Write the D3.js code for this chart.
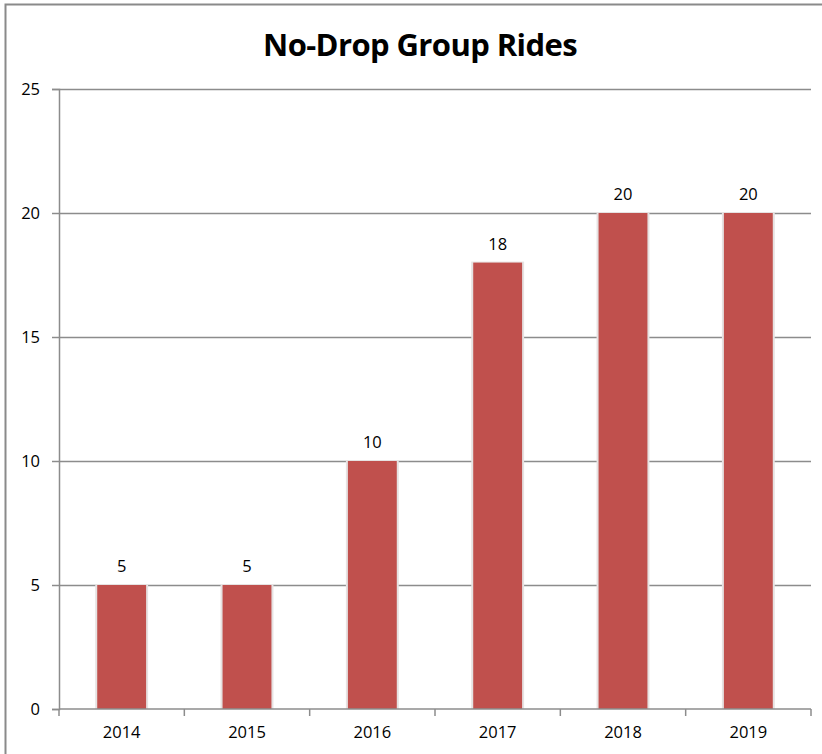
<!DOCTYPE html>
<html>
<head>
<meta charset="utf-8">
<script src="https://cdn.jsdelivr.net/npm/d3@7"></script>
<style>
  body { margin: 0; background: #fff; }
  text { font-family: "Open Sans", "DejaVu Sans", sans-serif; fill: #000; }
</style>
</head>
<body>
<div id="GraphHolder"></div>
<script>
// chart data
var years = ["2014", "2015", "2016", "2017", "2018", "2019"];
var rides = [5, 5, 10, 18, 20, 20];
var yTicks = [0, 5, 10, 15, 20, 25];

var data = years.map(function(y, i) { return {year: y, value: rides[i]}; });

// set the dimensions and margins of the graph
var W = 822, H = 754;
var margin = {top: 89, right: 11, bottom: 45, left: 59},
    width = W - margin.left - margin.right,
    height = H - margin.top - margin.bottom;

var root = d3.select("#GraphHolder").append("svg")
    .attr("width", W)
    .attr("height", H);

// outer chart frame
root.append("rect")
    .attr("x", 5.5).attr("y", 4.5)
    .attr("width", W + 10).attr("height", H + 10)
    .attr("fill", "none")
    .attr("stroke", "#8a8a8a")
    .attr("stroke-width", 2);

// title
root.append("text")
    .attr("x", 420)
    .attr("y", 56)
    .attr("text-anchor", "middle")
    .style("font-size", "31px")
    .style("font-weight", "bold")
    .style("letter-spacing", "-0.6px")
    .text("No-Drop Group Rides");

var svg = root.append("g")
    .attr("transform", "translate(" + margin.left + "," + margin.top + ")");

// scales
var x = d3.scaleBand()
    .domain(years)
    .range([0, width])
    .paddingInner(0.61)
    .paddingOuter(0.305);
var xTicks = d3.scaleBand().domain(years).range([0, width]);
var y = d3.scaleLinear()
    .domain([0, 25])
    .range([height, 0]);

// gridlines
svg.selectAll(".grid")
    .data(yTicks.filter(function(d) { return d > 0; }))
    .enter().append("line")
    .attr("class", "grid")
    .attr("x1", 0).attr("x2", width)
    .attr("y1", function(d) { return y(d) + 0.5; })
    .attr("y2", function(d) { return y(d) + 0.5; })
    .attr("stroke", "#8c8c8c")
    .attr("stroke-width", 1.5);

// y axis
var yAxis = d3.axisLeft(y).tickValues(yTicks).tickSize(7).tickPadding(12);
var gy = svg.append("g").attr("class", "yaxis").call(yAxis);
gy.select(".domain").attr("stroke", "#8c8c8c").attr("stroke-width", 1.5);
gy.selectAll(".tick line").attr("stroke", "#8c8c8c").attr("stroke-width", 1.5);
gy.selectAll("text").style("font-size", "16.5px").attr("dy", "0.35em");

// bars with a faint light edge
svg.selectAll(".barshadow")
    .data(data)
    .enter().append("rect")
    .attr("class", "barshadow")
    .attr("x", function(d) { return x(d.year) - 2; })
    .attr("width", x.bandwidth() + 4)
    .attr("y", function(d) { return y(d.value) - 1; })
    .attr("height", function(d) { return height - y(d.value) + 1; })
    .attr("fill", "#e6e2e2");

svg.selectAll(".bar")
    .data(data)
    .enter().append("rect")
    .attr("class", "bar")
    .attr("x", function(d) { return x(d.year); })
    .attr("width", x.bandwidth())
    .attr("y", function(d) { return y(d.value); })
    .attr("height", function(d) { return height - y(d.value); })
    .attr("fill", "#c0504d");

// value labels
svg.selectAll(".label")
    .data(data)
    .enter().append("text")
    .attr("class", "label")
    .attr("x", function(d) { return x(d.year) + x.bandwidth() / 2; })
    .attr("y", function(d) { return y(d.value) - 13; })
    .attr("text-anchor", "middle")
    .style("font-size", "16.5px")
    .text(function(d) { return d.value; });

// x axis
var xAxis = d3.axisBottom(xTicks).tickSize(0).tickPadding(17);
var gx = svg.append("g")
    .attr("class", "xaxis")
    .attr("transform", "translate(0," + height + ")")
    .call(xAxis);
gx.select(".domain").remove();
gx.append("line")
    .attr("x1", 0).attr("x2", width)
    .attr("stroke", "#8c8c8c").attr("stroke-width", 1.5);
gx.selectAll(".sep")
    .data(d3.range(years.length + 1))
    .enter().append("line")
    .attr("class", "sep")
    .attr("x1", function(i) { return i * xTicks.step(); })
    .attr("x2", function(i) { return i * xTicks.step(); })
    .attr("y1", 0).attr("y2", 7)
    .attr("stroke", "#8c8c8c").attr("stroke-width", 1.5);
gx.selectAll(".tick text").style("font-size", "16.5px");
</script>
</body>
</html>
